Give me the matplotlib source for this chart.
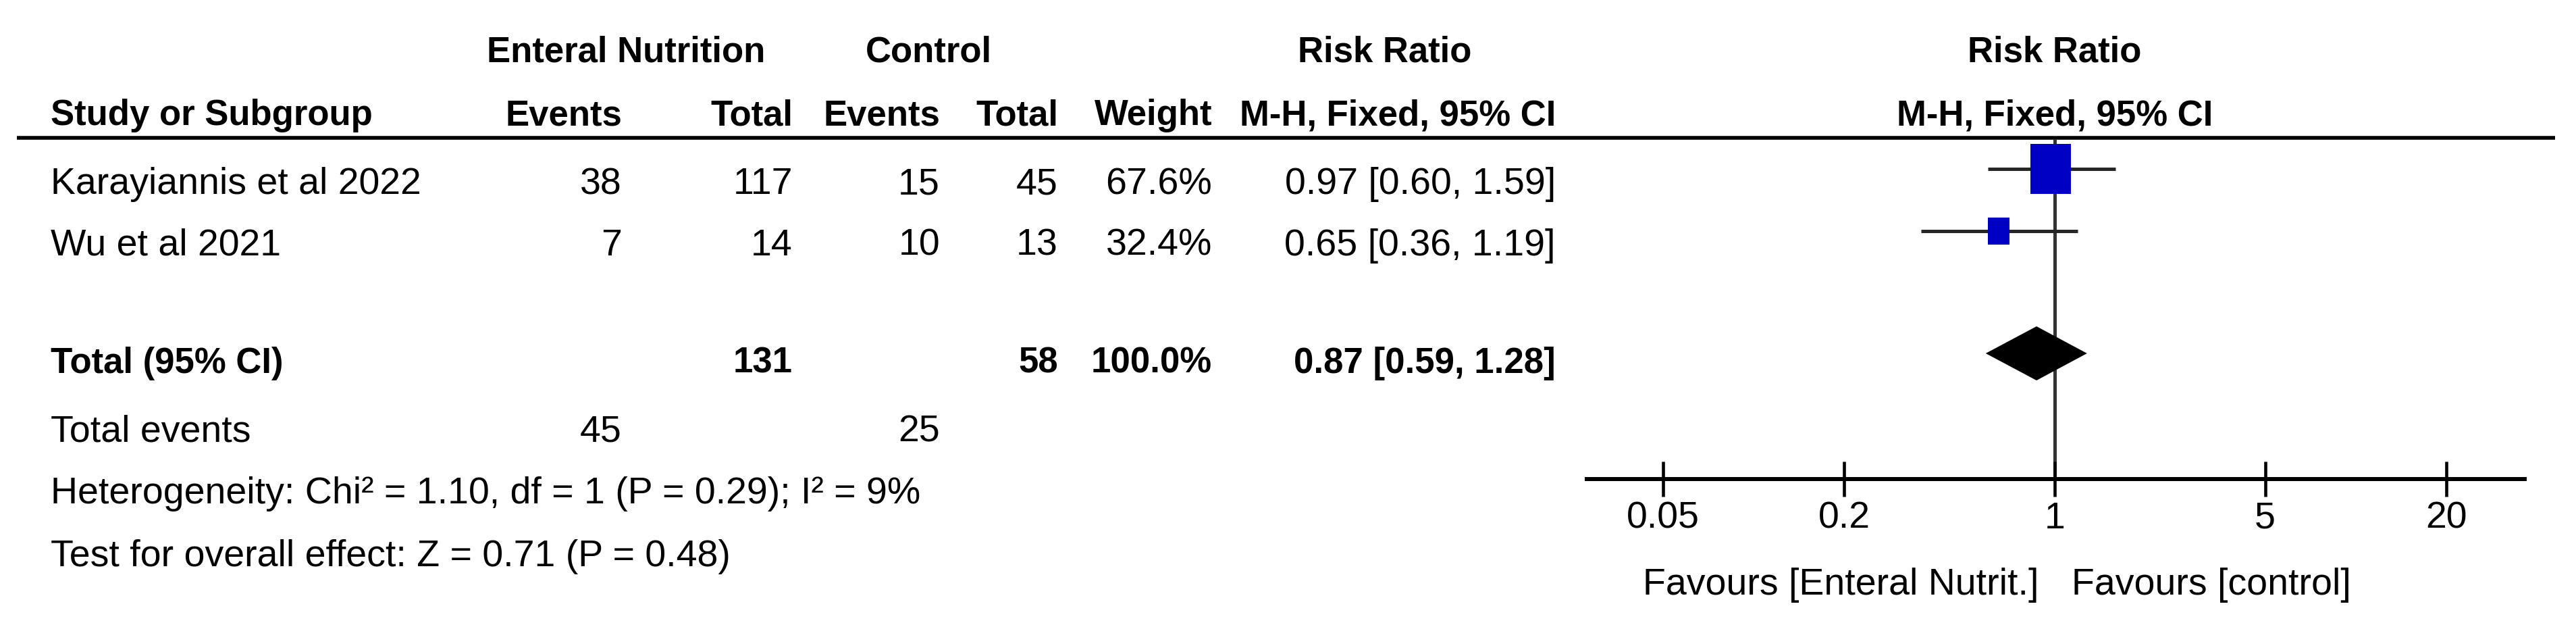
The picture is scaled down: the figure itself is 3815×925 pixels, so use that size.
import numpy as np
import matplotlib
matplotlib.use('Agg')
import matplotlib.pyplot as plt
from matplotlib import font_manager
from matplotlib.path import Path

# ------------------
# Data
# ------------------
studies = ['Karayiannis et al 2022', 'Wu et al 2021']
en_events = [38, 7]
en_total = [117, 14]
ctl_events = [15, 10]
ctl_total = [45, 13]
weights = [67.6, 32.4]
rr = [0.97, 0.65]
rr_lo = [0.60, 0.36]
rr_hi = [1.59, 1.19]

pooled_rr = 0.87
pooled_lo = 0.59
pooled_hi = 1.28

heterogeneity = 'Heterogeneity: Chi\u00b2 = 1.10, df = 1 (P = 0.29); I\u00b2 = 9%'
overall = 'Test for overall effect: Z = 0.71 (P = 0.48)'
tick_vals = [0.05, 0.2, 1, 5, 20]
tick_labels = ['0.05', '0.2', '1', '5', '20']
favours_left = 'Favours [Enteral Nutrit.]'
favours_right = 'Favours [control]'

# ------------------
# Fonts / layout (pixel coordinates, y going down)
# ------------------
names = {f.name for f in font_manager.fontManager.ttflist}
if 'Liberation Sans Narrow' in names:
    FONT, FS, FSB = 'Liberation Sans Narrow', 48, 47
else:
    FONT, FS, FSB = 'Liberation Sans', 40, 38
plt.rcParams['font.family'] = [FONT, 'DejaVu Sans']

W, H = 3816, 925
fig = plt.figure(figsize=(W / 100, H / 100), dpi=100)

tab = fig.add_axes([0, 0, 1, 1])
tab.set_xlim(0, W)
tab.set_ylim(H, 0)
tab.axis('off')

# column right edges
X_NAME = 75
X_EN_EV, X_EN_TOT = 921, 1174
X_C_EV, X_C_TOT = 1392, 1567
X_WEIGHT, X_CI = 1795, 2304

# baselines
Y_HEAD1, Y_HEAD2 = 92, 185
Y_ROWS = [287, 378]
Y_TOTAL, Y_EVENTS, Y_HET, Y_TEST = 552, 653, 745, 838


def txt(x, y, s, ha='right', bold=False):
    tab.text(x, y, s, ha=ha, va='baseline', fontsize=FSB if bold else FS,
             fontweight='bold' if bold else 'normal', color='black')


# header
txt(927, Y_HEAD1, 'Enteral Nutrition', ha='center', bold=True)
txt(1375, Y_HEAD1, 'Control', ha='center', bold=True)
txt(2051, Y_HEAD1, 'Risk Ratio', ha='center', bold=True)
txt(X_NAME, Y_HEAD2, 'Study or Subgroup', ha='left', bold=True)
txt(X_EN_EV, Y_HEAD2, 'Events', bold=True)
txt(X_EN_TOT, Y_HEAD2, 'Total', bold=True)
txt(X_C_EV, Y_HEAD2, 'Events', bold=True)
txt(X_C_TOT, Y_HEAD2, 'Total', bold=True)
txt(X_WEIGHT, Y_HEAD2, 'Weight', bold=True)
txt(X_CI, Y_HEAD2, 'M-H, Fixed, 95% CI', bold=True)
txt(3043, Y_HEAD1, 'Risk Ratio', ha='center', bold=True)
txt(3043, Y_HEAD2, 'M-H, Fixed, 95% CI', ha='center', bold=True)

tab.plot([25, 3784], [204, 204], color='black', lw=4, solid_capstyle='butt')

# study rows
for i, name in enumerate(studies):
    y = Y_ROWS[i]
    txt(X_NAME, y, name, ha='left')
    txt(X_EN_EV, y, str(en_events[i]))
    txt(X_EN_TOT, y, str(en_total[i]))
    txt(X_C_EV, y, str(ctl_events[i]))
    txt(X_C_TOT, y, str(ctl_total[i]))
    txt(X_WEIGHT, y, f'{weights[i]:.1f}%')
    txt(X_CI, y, f'{rr[i]:.2f} [{rr_lo[i]:.2f}, {rr_hi[i]:.2f}]')

# total rows
txt(X_NAME, Y_TOTAL, 'Total (95% CI)', ha='left', bold=True)
txt(X_EN_TOT, Y_TOTAL, str(sum(en_total)), bold=True)
txt(X_C_TOT, Y_TOTAL, str(sum(ctl_total)), bold=True)
txt(X_WEIGHT, Y_TOTAL, f'{sum(weights):.1f}%', bold=True)
txt(X_CI, Y_TOTAL, f'{pooled_rr:.2f} [{pooled_lo:.2f}, {pooled_hi:.2f}]', bold=True)

txt(X_NAME, Y_EVENTS, 'Total events', ha='left')
txt(X_EN_EV, Y_EVENTS, str(sum(en_events)))
txt(X_C_EV, Y_EVENTS, str(sum(ctl_events)))
txt(X_NAME, Y_HET, heterogeneity, ha='left')
txt(X_NAME, Y_TEST, overall, ha='left')

txt(3020, 880, favours_left, ha='right')
txt(3068, 880, favours_right, ha='left')

# ------------------
# Forest plot axes
# ------------------
AX_L, AX_R, AX_T, AX_B = 2350, 3739, 206, 709
ax = fig.add_axes([AX_L / W, (H - AX_B) / H, (AX_R - AX_L) / W, (AX_B - AX_T) / H])
ax.patch.set_visible(False)
ax.set_xscale('log')
ax.set_xlim(0.0279, 36.4)
ax.set_ylim(AX_B, AX_T)
for s in ['top', 'left', 'right']:
    ax.spines[s].set_visible(False)
ax.spines['bottom'].set_linewidth(4.3)
ax.set_yticks([])
ax.set_xticks(tick_vals)
ax.set_xticklabels(tick_labels)
ax.minorticks_off()
ax.tick_params(axis='x', direction='inout', length=37.4, width=3.3, pad=5,
               labelsize=FS, colors='black')

ax.axvline(1, color='#333333', lw=3.6, zorder=1)

# CI lines and boxes
PLOT_Y = [250, 342]
for i in range(len(studies)):
    y = PLOT_Y[i]
    ax.plot([rr_lo[i], rr_hi[i]], [y, y], color='#262626', lw=3.6,
            solid_capstyle='butt', zorder=2)
    box_h = (8.7 + 0.966 * weights[i]) / 1.389   # height in points
    rect = Path([(-0.41, -0.5), (0.41, -0.5), (0.41, 0.5), (-0.41, 0.5), (-0.41, -0.5)],
                [Path.MOVETO, Path.LINETO, Path.LINETO, Path.LINETO, Path.CLOSEPOLY])
    ax.plot([rr[i]], [y], marker=rect, markersize=box_h, color='#0000c4',
            markeredgewidth=0, linestyle='none', zorder=3)

# pooled diamond
yd, hd = 523, 40
ax.fill([pooled_lo, pooled_rr, pooled_hi, pooled_rr], [yd, yd - hd, yd, yd + hd],
        color='black', lw=0, zorder=3)

fig.savefig('out.png', dpi=100)
